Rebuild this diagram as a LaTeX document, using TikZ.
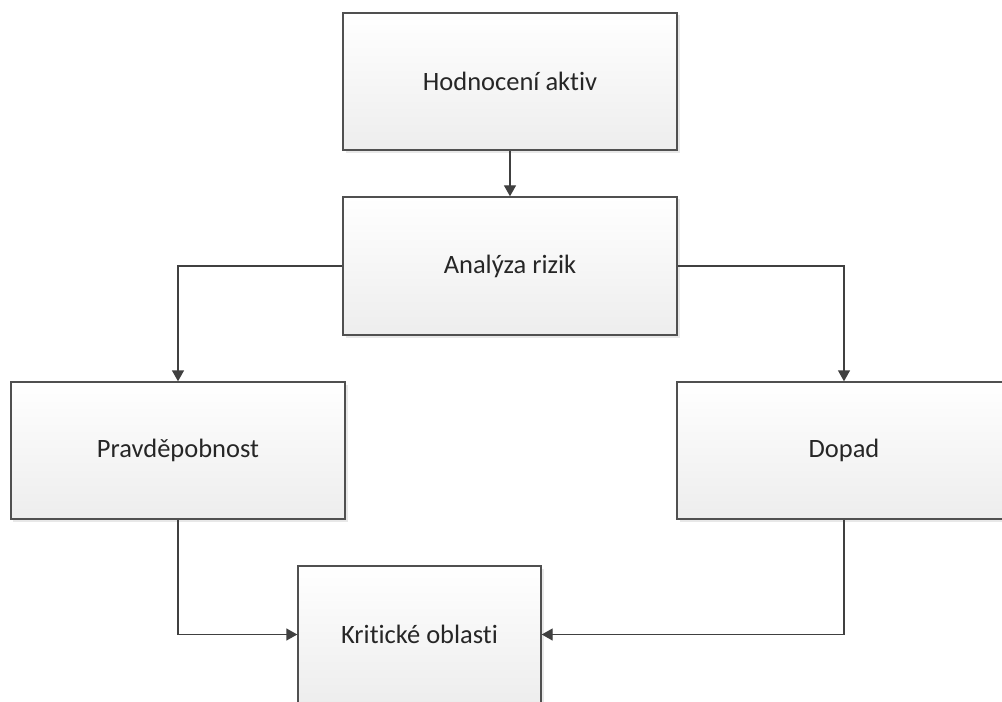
\documentclass[tikz,border=0pt]{standalone}
\usepackage{fontspec}
\setmainfont{Carlito}[Ligatures={NoCommon}]
\usetikzlibrary{arrows.meta,shadows}
\definecolor{edgegray}{HTML}{505050}
\definecolor{linegray}{HTML}{404040}
\begin{document}
\begin{tikzpicture}[x=1bp,y=-1bp,
  procbox/.style={draw=edgegray, line width=1.4bp, rectangle, inner sep=0pt,
    top color=white, bottom color=black!7,
    drop shadow={opacity=0.18, shadow xshift=2.5bp, shadow yshift=-2.5bp},
    font=\fontsize{26.5bp}{31bp}\selectfont, text=black!85},
  flow/.style={draw=linegray, line width=1.4bp,
    -{Triangle[length=11bp,width=12bp]}}]
  \useasboundingbox (0,0) rectangle (1002,702);
  \clip (0,0) rectangle (1002,702);
  \fill[white] (0,0) rectangle (1002,702);

  % process boxes
  \node[procbox, minimum width=334bp, minimum height=137bp] (hodn) at (510,81.5) {Hodnocení aktiv};
  \node[procbox, minimum width=334bp, minimum height=138bp] (anal) at (510,266) {Analýza rizik};
  \node[procbox, minimum width=334bp, minimum height=137bp] (prav) at (178,450.5) {Pravděpobnost};
  \node[procbox, minimum width=334bp, minimum height=137bp] (dopad) at (844,450.5) {Dopad};
  \node[procbox, minimum width=243bp, minimum height=137bp] (krit) at (419.5,634.5) {Kritické oblasti};

  % connectors
  \draw[flow] (hodn.south) -- (anal.north);
  \draw[flow] (anal.west) -| (prav.north);
  \draw[flow] (anal.east) -| (dopad.north);
  \draw[flow] (prav.south) |- (krit.west);
  \draw[flow] (dopad.south) |- (krit.east);
\end{tikzpicture}
\end{document}
